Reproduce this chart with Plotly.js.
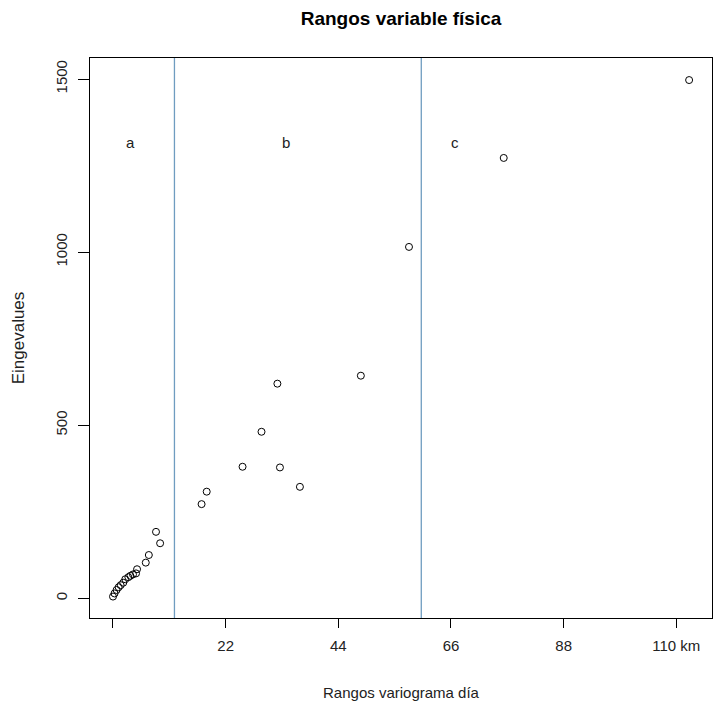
<!DOCTYPE html>
<html>
<head>
<meta charset="utf-8">
<script src="https://cdn.plot.ly/plotly-3.0.1.min.js"></script>
<style>html,body{margin:0;padding:0;background:#fff;}#chart{width:726px;height:706px;}</style>
</head>
<body>
<div id="chart"></div>
<script>
// Data
const rangos = [0.0, 0.3, 0.7, 1.1, 1.5, 2.0, 2.4, 3.0, 3.4, 3.9, 4.5, 4.7, 6.4, 7.0, 8.4, 9.2, 17.3, 18.3, 25.3, 29.0, 32.1, 32.6, 36.5, 48.4, 57.8, 76.3, 112.5];
const eigenvalues = [5, 14, 24, 32, 38, 45, 55, 61, 65, 69, 72, 84, 103, 125, 192, 159, 272, 308, 380, 481, 620, 378, 322, 643, 1015, 1272, 1497];
const cortes = [12, 60.2];
const grupos = ["a", "b", "c"];
const grupoX = [3.5, 33.8, 66.8];
const grupoY = [1317, 1317, 1317];
const xTicks = [0, 22, 44, 66, 88, 110];
const xTickText = ["", "22", "44", "66", "88", "110 km"];
const yTicks = [0, 500, 1000, 1500];

const font = "Liberation Sans, Arial, sans-serif";

const trace = {
  x: rangos, y: eigenvalues, type: "scatter", mode: "markers",
  marker: {symbol: "circle-open", size: 7, color: "#000", line: {width: 1, color: "#000"}},
  hoverinfo: "skip"
};

const shapes = cortes.map(v => ({
  type: "line", xref: "x", yref: "paper", x0: v, x1: v, y0: 0, y1: 1,
  line: {color: "#6f9cc0", width: 1.3}
}));

const annotations = grupos.map((g, i) => ({
  x: grupoX[i], y: grupoY[i], xref: "x", yref: "y", text: g, showarrow: false,
  font: {family: font, size: 15, color: "#222"}
}));

const layout = {
  width: 726, height: 706,
  margin: {l: 90, r: 14, t: 58, b: 88},
  paper_bgcolor: "#fff", plot_bgcolor: "#fff",
  showlegend: false,
  title: {text: "<b>Rangos variable física</b>", x: 0.5524, xanchor: "center", y: 0.974, yanchor: "middle",
          font: {family: font, size: 19, color: "#000"}},
  xaxis: {
    range: [-4.49, 116.97], tickvals: xTicks, ticktext: xTickText,
    ticks: "outside", ticklen: 9, tickcolor: "#000", tickwidth: 1,
    showline: true, mirror: true, linecolor: "#000", linewidth: 1,
    showgrid: false, zeroline: false, ticklabelstandoff: 5,
    tickfont: {family: font, size: 15, color: "#222"},
    title: {text: "Rangos variograma día", standoff: 34, font: {family: font, size: 15, color: "#222"}}
  },
  yaxis: {
    range: [-56.9, 1560.7], tickvals: yTicks, tickangle: -90,
    ticks: "outside", ticklen: 11, tickcolor: "#000", tickwidth: 1,
    showline: true, mirror: true, linecolor: "#000", linewidth: 1,
    showgrid: false, zeroline: false, ticklabelstandoff: 5,
    tickfont: {family: font, size: 15, color: "#222"},
    title: {text: "Eingevalues", standoff: 24, font: {family: font, size: 17, color: "#222"}}
  },
  shapes: shapes,
  annotations: annotations
};

Plotly.newPlot("chart", [trace], layout, {displayModeBar: false, staticPlot: true});
</script>
</body>
</html>
